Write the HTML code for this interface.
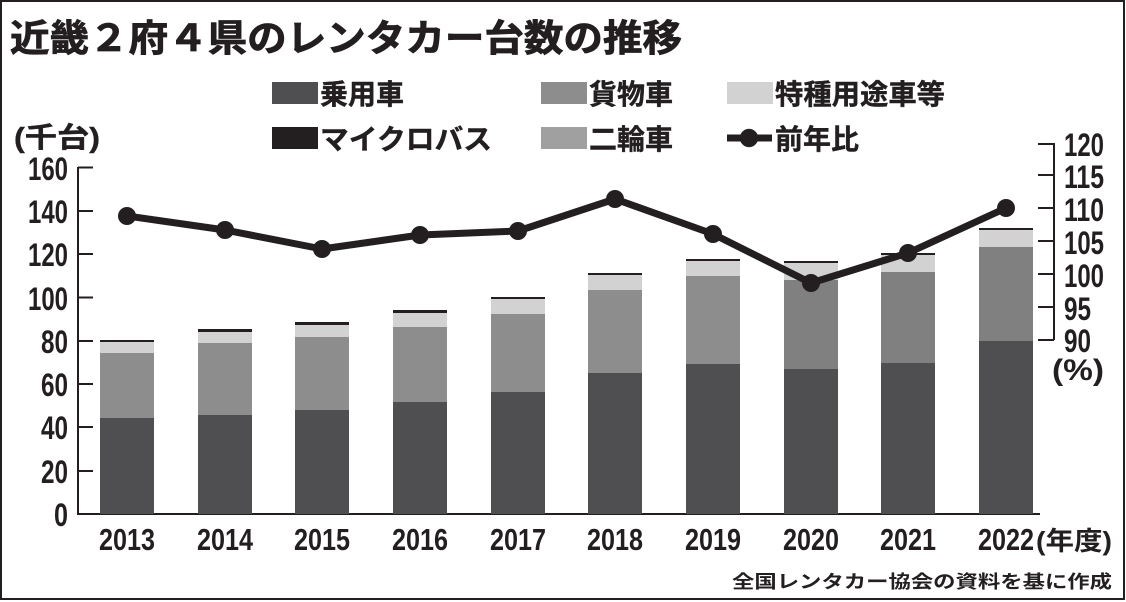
<!DOCTYPE html>
<html><head><meta charset="utf-8"><style>
html,body{margin:0;padding:0;background:#fff}
svg{display:block}
text{font-family:"Liberation Sans","Noto Sans CJK JP",sans-serif;font-weight:bold;fill:#231f20}
</style></head><body>
<svg width="1126" height="602" viewBox="0 0 1126 602" xmlns="http://www.w3.org/2000/svg">
<rect x="1" y="1" width="1123" height="598" fill="#fff" stroke="#231f20" stroke-width="2"/>
<text x="10" y="51" font-size="37" stroke="#231f20" stroke-width="0.8" textLength="672" lengthAdjust="spacingAndGlyphs">近畿２府４県のレンタカー台数の推移</text>
<!-- legend -->
<g font-size="28" stroke="#231f20" stroke-width="0.4">
<rect x="272" y="82" width="46" height="22" fill="#4f4e50" stroke="none"/><text x="320" y="104">乗用車</text>
<rect x="541" y="82" width="46" height="22" fill="#8d8d8d" stroke="none"/><text x="589" y="104">貨物車</text>
<rect x="727" y="82" width="46" height="22" fill="#d2d2d2" stroke="none"/><text x="775" y="104" textLength="170" lengthAdjust="spacingAndGlyphs">特種用途車等</text>
<rect x="272" y="127" width="46" height="22" fill="#231f20" stroke="none"/><text x="320" y="149" textLength="172" lengthAdjust="spacingAndGlyphs">マイクロバス</text>
<rect x="541" y="127" width="46" height="22" fill="#a0a0a0" stroke="none"/><text x="589" y="149">二輪車</text>
<line x1="727" y1="138" x2="772" y2="138" stroke="#231f20" stroke-width="7"/><circle cx="749" cy="138" r="9" fill="#231f20"/><text x="775" y="149">前年比</text>
<text x="14" y="147" textLength="86" lengthAdjust="spacingAndGlyphs">(千台)</text>
</g>
<!-- axes -->
<g stroke="#231f20" stroke-width="2">
<line x1="78" y1="167" x2="78" y2="515"/>
<line x1="77" y1="514" x2="1040" y2="514"/>
<line x1="78" y1="167.5" x2="93" y2="167.5"/><line x1="78" y1="211" x2="93" y2="211"/><line x1="78" y1="254" x2="93" y2="254"/><line x1="78" y1="297.5" x2="93" y2="297.5"/><line x1="78" y1="341" x2="93" y2="341"/><line x1="78" y1="384" x2="93" y2="384"/><line x1="78" y1="427" x2="93" y2="427"/><line x1="78" y1="471" x2="93" y2="471"/>
<line x1="1054" y1="143" x2="1054" y2="340"/>
<line x1="1038" y1="144" x2="1054" y2="144"/><line x1="1038" y1="175" x2="1054" y2="175"/><line x1="1038" y1="208" x2="1054" y2="208"/><line x1="1038" y1="241" x2="1054" y2="241"/><line x1="1038" y1="274" x2="1054" y2="274"/><line x1="1038" y1="307" x2="1054" y2="307"/><line x1="1038" y1="340" x2="1054" y2="340"/>
</g>
<g font-size="32" text-anchor="end">
<text x="68" y="180" textLength="40" lengthAdjust="spacingAndGlyphs">160</text>
<text x="68" y="223" textLength="40" lengthAdjust="spacingAndGlyphs">140</text>
<text x="68" y="266" textLength="40" lengthAdjust="spacingAndGlyphs">120</text>
<text x="68" y="310" textLength="40" lengthAdjust="spacingAndGlyphs">100</text>
<text x="68" y="353" textLength="27" lengthAdjust="spacingAndGlyphs">80</text>
<text x="68" y="396" textLength="27" lengthAdjust="spacingAndGlyphs">60</text>
<text x="68" y="439" textLength="27" lengthAdjust="spacingAndGlyphs">40</text>
<text x="68" y="483" textLength="27" lengthAdjust="spacingAndGlyphs">20</text>
<text x="68" y="526" textLength="14" lengthAdjust="spacingAndGlyphs">0</text>
</g>
<g font-size="32">
<text x="1064" y="156" textLength="40" lengthAdjust="spacingAndGlyphs">120</text>
<text x="1064" y="188" textLength="40" lengthAdjust="spacingAndGlyphs">115</text>
<text x="1064" y="221" textLength="40" lengthAdjust="spacingAndGlyphs">110</text>
<text x="1064" y="254" textLength="40" lengthAdjust="spacingAndGlyphs">105</text>
<text x="1064" y="287" textLength="40" lengthAdjust="spacingAndGlyphs">100</text>
<text x="1064" y="320" textLength="27" lengthAdjust="spacingAndGlyphs">95</text>
<text x="1064" y="352" textLength="27" lengthAdjust="spacingAndGlyphs">90</text>
<text x="1052" y="380" font-size="30" textLength="52" lengthAdjust="spacingAndGlyphs">(%)</text>
</g>
<!-- bars -->
<g>
<rect x="100" y="418" width="54" height="96" fill="#4f4e50"/><rect x="100" y="353" width="54" height="65" fill="#8d8d8d"/><rect x="100" y="342" width="54" height="11" fill="#d2d2d2"/><rect x="100" y="340" width="54" height="2" fill="#231f20"/>
<rect x="198" y="415" width="54" height="99" fill="#4f4e50"/><rect x="198" y="343" width="54" height="72" fill="#8d8d8d"/><rect x="198" y="332" width="54" height="11" fill="#d2d2d2"/><rect x="198" y="329" width="54" height="3" fill="#231f20"/>
<rect x="295" y="410" width="54" height="104" fill="#4f4e50"/><rect x="295" y="337" width="54" height="73" fill="#8d8d8d"/><rect x="295" y="325" width="54" height="12" fill="#d2d2d2"/><rect x="295" y="322" width="54" height="3" fill="#231f20"/>
<rect x="393" y="402" width="54" height="112" fill="#4f4e50"/><rect x="393" y="327" width="54" height="75" fill="#8d8d8d"/><rect x="393" y="313" width="54" height="14" fill="#d2d2d2"/><rect x="393" y="310" width="54" height="3" fill="#231f20"/>
<rect x="491" y="392" width="54" height="122" fill="#4f4e50"/><rect x="491" y="314" width="54" height="78" fill="#8d8d8d"/><rect x="491" y="299" width="54" height="15" fill="#d2d2d2"/><rect x="491" y="297" width="54" height="2" fill="#231f20"/>
<rect x="588" y="373" width="54" height="141" fill="#4f4e50"/><rect x="588" y="290" width="54" height="83" fill="#8d8d8d"/><rect x="588" y="275" width="54" height="15" fill="#d2d2d2"/><rect x="588" y="273" width="54" height="2" fill="#231f20"/>
<rect x="686" y="364" width="54" height="150" fill="#4f4e50"/><rect x="686" y="276" width="54" height="88" fill="#8d8d8d"/><rect x="686" y="261" width="54" height="15" fill="#d2d2d2"/><rect x="686" y="259" width="54" height="2" fill="#231f20"/>
<rect x="784" y="369" width="54" height="145" fill="#4f4e50"/><rect x="784" y="280" width="54" height="89" fill="#808080"/><rect x="784" y="263" width="54" height="17" fill="#d2d2d2"/><rect x="784" y="261" width="54" height="2" fill="#231f20"/>
<rect x="881" y="363" width="54" height="151" fill="#4f4e50"/><rect x="881" y="272" width="54" height="91" fill="#808080"/><rect x="881" y="255" width="54" height="17" fill="#d2d2d2"/><rect x="881" y="253" width="54" height="2" fill="#231f20"/>
<rect x="979" y="341" width="54" height="173" fill="#4f4e50"/><rect x="979" y="247" width="54" height="94" fill="#808080"/><rect x="979" y="230" width="54" height="17" fill="#d2d2d2"/><rect x="979" y="228" width="54" height="2" fill="#231f20"/>
</g>
<!-- line -->
<polyline points="127,216 225,230 322,249 420,235 518,231 615,199 713,234 811,283 908,253 1006,208" fill="none" stroke="#231f20" stroke-width="7" stroke-linejoin="round"/>
<g fill="#231f20">
<circle cx="127" cy="216" r="9"/><circle cx="225" cy="230" r="9"/><circle cx="322" cy="249" r="9"/><circle cx="420" cy="235" r="9"/><circle cx="518" cy="231" r="9"/><circle cx="615" cy="199" r="9"/><circle cx="713" cy="234" r="9"/><circle cx="811" cy="283" r="9"/><circle cx="908" cy="253" r="9"/><circle cx="1006" cy="208" r="9"/>
</g>
<!-- x labels -->
<g font-size="31" text-anchor="middle">
<text x="127" y="550" textLength="56" lengthAdjust="spacingAndGlyphs">2013</text>
<text x="225" y="550" textLength="56" lengthAdjust="spacingAndGlyphs">2014</text>
<text x="322" y="550" textLength="56" lengthAdjust="spacingAndGlyphs">2015</text>
<text x="420" y="550" textLength="56" lengthAdjust="spacingAndGlyphs">2016</text>
<text x="518" y="550" textLength="56" lengthAdjust="spacingAndGlyphs">2017</text>
<text x="615" y="550" textLength="56" lengthAdjust="spacingAndGlyphs">2018</text>
<text x="713" y="550" textLength="56" lengthAdjust="spacingAndGlyphs">2019</text>
<text x="811" y="550" textLength="56" lengthAdjust="spacingAndGlyphs">2020</text>
<text x="908" y="550" textLength="56" lengthAdjust="spacingAndGlyphs">2021</text>
<text x="1006" y="550" textLength="56" lengthAdjust="spacingAndGlyphs">2022</text>
</g>
<text x="1036" y="550" font-size="26" textLength="76" lengthAdjust="spacingAndGlyphs">(年度)</text>
<text x="1112" y="588" font-size="18" text-anchor="end" textLength="380" lengthAdjust="spacingAndGlyphs">全国レンタカー協会の資料を基に作成</text>
</svg>
</body></html>
